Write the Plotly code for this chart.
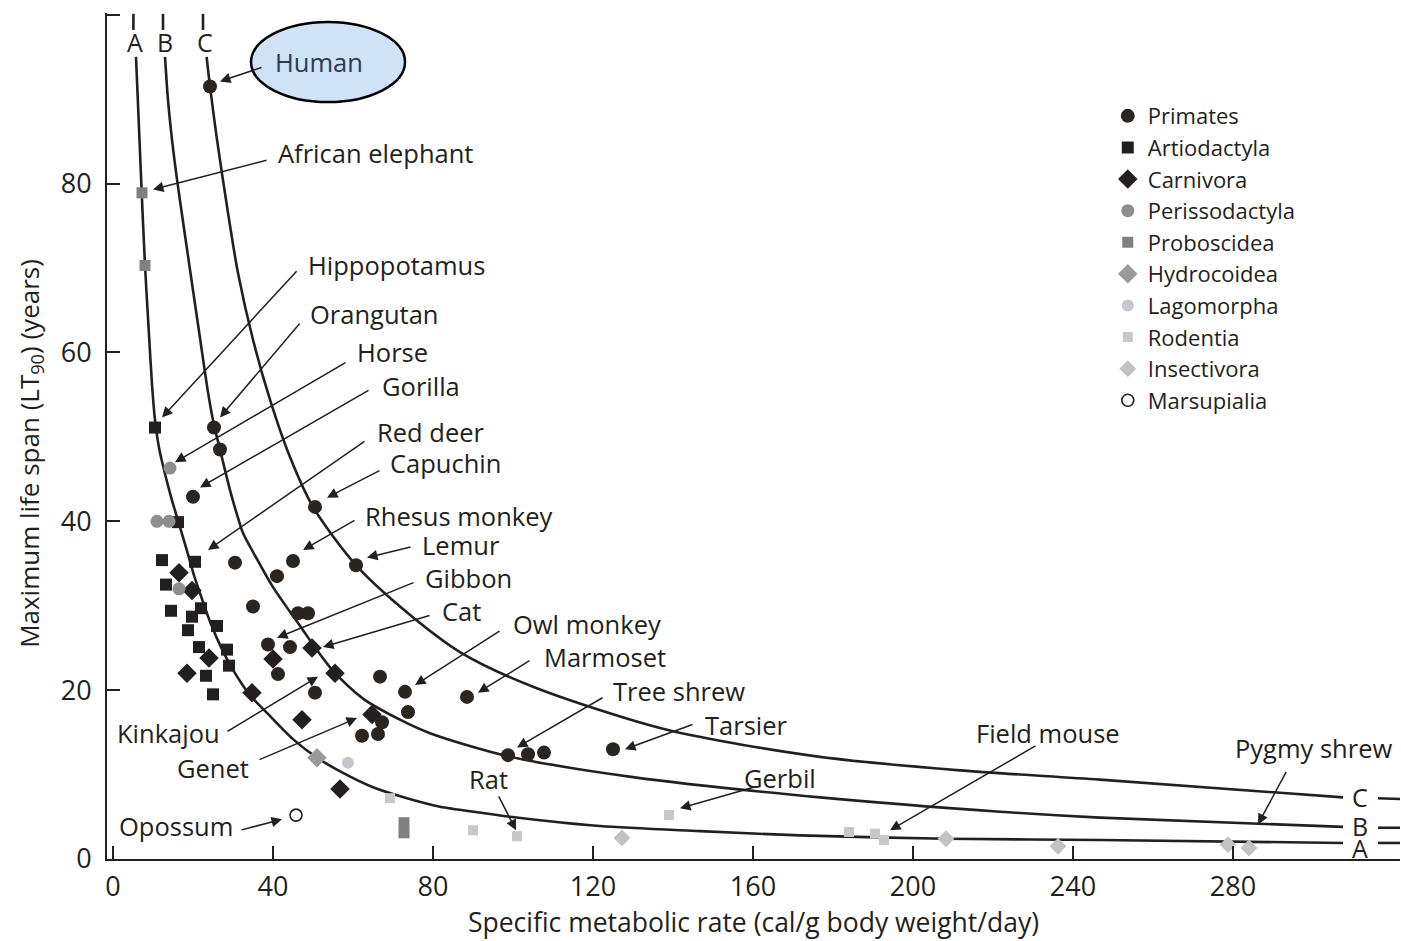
import plotly.graph_objects as go

# ---------------- data ----------------
# Lifetime-energy curves (None = gap where the curve letter sits)
curve_a_x = [5.1, 5.1, None, 5.75, 7.18, 8.0, 9.0, 9.75, 10.5, 11.5, 12.75, 14.5, 16.5, 18.5, 20.25, 22.25,
             24.5, 27.0, 30.0, 34.25, 38.5, 45.0, 51.0, 57.5, 65.0, 73.5, 81.75, 91.75, 99.25, 121.75,
             146.75, 171.75, 208.25, 246.75, 307.5, None, 316.25, 321.75]
curve_a_y = [100.1, 98.2, None, 95.0, 78.9, 70.3, 62.1, 56.2, 52.0, 48.7, 46.1, 42.9, 39.7, 36.5, 33.6, 30.8,
             27.8, 25.1, 22.4, 19.4, 17.3, 14.2, 12.0, 10.2, 8.5, 7.2, 6.2, 5.5, 5.0, 3.9,
             3.3, 2.8, 2.4, 2.25, 1.9, None, 1.9, 1.9]

curve_b_x = [12.5, 12.5, None, 13.0, 13.75, 14.75, 16.0, 17.5, 19.25, 21.75, 23.75, 25.25, 26.75, 29.25,
             31.25, 32.5, 36.25, 40.0, 47.5, 50.0, 55.0, 62.5, 71.75, 79.25, 98.5, 130.0, 176.75, 221.75,
             246.75, 307.5, None, 316.25, 321.75]
curve_b_y = [100.1, 98.2, None, 95.0, 89.9, 85.2, 80.5, 75.5, 69.8, 61.7, 55.3, 51.4, 48.5, 43.7,
             40.4, 38.6, 35.3, 32.2, 27.1, 25.4, 22.3, 19.0, 16.5, 14.9, 12.2, 9.7, 7.3, 5.6,
             4.9, 3.8, None, 3.7, 3.7]

curve_c_x = [22.5, 22.5, None, 23.4, 24.25, 26.0, 28.5, 31.25, 35.0, 39.25, 44.25, 50.0, 60.75, 71.75, 86.75,
             105.0, 138.5, 176.75, 211.75, 246.75, 307.5, None, 316.25, 321.75]
curve_c_y = [100.1, 98.2, None, 95.0, 91.5, 85.2, 77.3, 69.4, 61.5, 54.4, 47.6, 41.7, 34.8, 29.9, 24.5,
             20.4, 15.3, 12.1, 10.5, 9.4, 7.3, None, 7.2, 7.1]

curve_names = ["A", "B", "C"]

# Orders (x = specific metabolic rate, y = maximum life span)
primates_x = [24.25, 25.25, 26.75, 20.0, 50.5, 60.75, 45.0, 41.0, 30.5, 35.0, 46.25, 48.75, 38.75, 44.25,
              41.25, 66.75, 50.5, 73.0, 73.75, 88.5, 67.25, 62.25, 66.25, 98.75, 103.75, 107.75, 125.0]
primates_y = [91.5, 51.1, 48.5, 42.9, 41.7, 34.8, 35.3, 33.5, 35.1, 29.9, 29.1, 29.1, 25.4, 25.1,
              21.9, 21.6, 19.7, 19.8, 17.4, 19.2, 16.2, 14.6, 14.8, 12.3, 12.4, 12.6, 13.0]

artio_x = [10.5, 16.25, 12.25, 20.5, 13.25, 14.5, 22.0, 19.75, 26.0, 18.75, 21.5, 28.5, 29.0, 23.25, 25.0]
artio_y = [51.1, 39.9, 35.4, 35.2, 32.5, 29.4, 29.7, 28.7, 27.6, 27.1, 25.1, 24.8, 22.9, 21.7, 19.5]

carni_x = [16.5, 19.75, 24.0, 18.5, 34.75, 40.0, 49.75, 55.5, 47.25, 64.75, 56.75]
carni_y = [33.9, 31.8, 23.8, 22.0, 19.7, 23.7, 25.0, 22.0, 16.5, 17.1, 8.3]

periss_x = [14.25, 11.0, 14.0, 16.5]
periss_y = [46.3, 40.0, 40.0, 32.0]

probo_x = [7.25, 8.0, 72.75, 72.75]
probo_y = [78.9, 70.3, 4.3, 3.1]

hydro_x = [51.0]
hydro_y = [12.0]

lago_x = [58.75]
lago_y = [11.4]

rodent_x = [69.25, 90.0, 101.0, 139.0, 184.0, 190.5, 192.75]
rodent_y = [7.2, 3.4, 2.7, 5.2, 3.2, 3.0, 2.25]

insect_x = [127.25, 208.25, 236.25, 278.75, 284.0]
insect_y = [2.5, 2.4, 1.5, 1.7, 1.3]

marsu_x = [45.75]
marsu_y = [5.2]

# Labelled species: text, text position, arrow tail, arrow tip
species_labels = ["Human", "African elephant", "Hippopotamus", "Orangutan", "Horse", "Gorilla", "Red deer",
                  "Capuchin", "Rhesus monkey", "Lemur", "Gibbon", "Cat", "Owl monkey", "Marmoset",
                  "Tree shrew", "Tarsier", "Kinkajou", "Genet", "Opossum", "Rat", "Gerbil", "Field mouse",
                  "Pygmy shrew"]
label_x = [51.5, 40.75, 48.25, 48.75, 60.5, 66.75, 65.5, 68.75, 62.5, 76.75, 77.5, 81.75, 99.5, 107.25,
           124.5, 147.5, 13.75, 25.0, 15.75, 93.75, 166.75, 233.75, 300.0]
label_y = [94.4, 83.6, 70.3, 64.5, 60.0, 56.0, 50.6, 46.9, 40.6, 37.2, 33.3, 29.4, 27.8, 23.9,
           19.9, 15.9, 14.9, 10.8, 3.9, 9.5, 9.6, 14.9, 13.2]
label_anchor = ["center", "left", "left", "left", "left", "left", "left", "left", "left", "left", "left",
                "left", "left", "left", "left", "left", "center", "center", "center", "center", "center",
                "center", "center"]
tail_x = [37.5, 38.75, 46.25, 47.0, 58.5, 64.25, 63.25, 67.0, 60.75, 74.75, 75.5, 79.5, 97.0, 104.5,
          122.75, 145.25, 28.25, 36.25, 31.75, 96.25, 161.0, 231.0, 293.5]
tail_y = [93.8, 82.8, 69.8, 63.6, 58.9, 55.6, 49.6, 46.1, 40.2, 37.0, 32.8, 28.9, 27.1, 23.6,
          19.2, 16.0, 15.0, 11.7, 3.4, 7.6, 8.6, 13.5, 10.5]
tip_x = [26.75, 10.0, 12.25, 26.75, 15.5, 21.75, 23.75, 53.5, 47.5, 63.5, 41.0, 52.5, 75.5, 91.25,
         101.0, 128.0, 51.25, 61.0, 42.25, 100.75, 141.75, 194.25, 286.25]
tip_y = [92.1, 79.3, 52.3, 52.3, 47.0, 44.0, 36.6, 42.8, 36.6, 35.7, 26.2, 25.1, 20.6, 19.7,
         13.2, 13.0, 21.6, 16.7, 4.7, 3.4, 6.0, 3.4, 4.1]

x_ticks = [0, 40, 80, 120, 160, 200, 240, 280]
y_ticks = [0, 20, 40, 60, 80, 100]
y_ticktext = ["0", "20", "40", "60", "80", ""]

x_title = "Specific metabolic rate (cal/g body weight/day)"
y_title = "Maximum life span (LT<sub>90</sub>) (years)"

# ---------------- styling ----------------
INK = "#231f20"
FONT = "Open Sans"

fig = go.Figure()

for cx, cy in [(curve_a_x, curve_a_y), (curve_b_x, curve_b_y), (curve_c_x, curve_c_y)]:
    fig.add_trace(go.Scatter(x=cx, y=cy, mode="lines", connectgaps=False, showlegend=False,
                             hoverinfo="skip",
                             line=dict(color=INK, width=2.6, shape="spline", smoothing=0.8)))

orders = [
    ("Primates", primates_x, primates_y, "circle", 14, "#2b2522", None),
    ("Artiodactyla", artio_x, artio_y, "square", 12, INK, None),
    ("Carnivora", carni_x, carni_y, "diamond", 15, INK, None),
    ("Perissodactyla", periss_x, periss_y, "circle", 13, "#8e8e8e", None),
    ("Proboscidea", probo_x, probo_y, "square", 11, "#808080", None),
    ("Hydrocoidea", hydro_x, hydro_y, "diamond", 15, "#9a9a9a", None),
    ("Lagomorpha", lago_x, lago_y, "circle", 12, "#c6c6cc", None),
    ("Rodentia", rodent_x, rodent_y, "square", 10, "#c8c8c8", None),
    ("Insectivora", insect_x, insect_y, "diamond", 13, "#c2c2c2", None),
    ("Marsupialia", marsu_x, marsu_y, "circle-open", 12, INK, 1.6),
]
for name, ox, oy, sym, size, col, lw in orders:
    marker = dict(symbol=sym, size=size, color=col)
    if lw:
        marker["line"] = dict(width=lw, color=col)
    else:
        marker["line"] = dict(width=0)
    fig.add_trace(go.Scatter(x=ox, y=oy, mode="markers", name=name, marker=marker))

annotations = []
# curve letters
top_letter_x = [5.5, 13.0, 23.0]
right_letter_y = [1.3, 3.9, 7.3]
for name, tx, ry in zip(curve_names, top_letter_x, right_letter_y):
    annotations.append(dict(x=tx, y=96.8, text=name, showarrow=False, xref="x", yref="y",
                            font=dict(size=25, family=FONT, color=INK)))
    annotations.append(dict(x=311.75, y=ry, text=name, showarrow=False, xref="x", yref="y",
                            font=dict(size=25, family=FONT, color=INK)))

# arrows
for tx, ty, hx, hy in zip(tail_x, tail_y, tip_x, tip_y):
    annotations.append(dict(x=hx, y=hy, ax=tx, ay=ty, xref="x", yref="y", axref="x", ayref="y",
                            text="", showarrow=True, arrowhead=2, arrowsize=1.4, arrowwidth=1.5,
                            arrowcolor=INK, standoff=0, startstandoff=0))

# species labels
for txt, lx, ly, anc in zip(species_labels, label_x, label_y, label_anchor):
    annotations.append(dict(x=lx, y=ly, text=txt, showarrow=False, xref="x", yref="y",
                            xanchor=anc, yanchor="middle",
                            font=dict(size=25.5, family=FONT, color=INK if txt != "Human" else "#2a3a55")))

# y-axis title (placed as in the reference, slightly below the axis centre)
annotations.append(dict(x=-0.0596, y=0.48, xref="paper", yref="paper", text=y_title, textangle=-90,
                        showarrow=False, xanchor="center", yanchor="middle",
                        font=dict(size=26, family=FONT, color=INK)))

# Human call-out ellipse (behind text)
shapes = [dict(type="circle", xref="paper", yref="paper", x0=0.1114, x1=0.2305, y0=0.8948, y1=0.9894,
               fillcolor="#cfe2f7", line=dict(color="#000000", width=2.5), layer="below")]

fig.update_layout(
    width=1401, height=941,
    margin=dict(l=107, r=1, t=13, b=82),
    paper_bgcolor="white", plot_bgcolor="white",
    font=dict(family=FONT, size=24, color=INK),
    showlegend=True,
    legend=dict(x=0.774, y=0.903, xanchor="left", yanchor="top", bgcolor="rgba(0,0,0,0)",
                font=dict(size=22, family=FONT, color=INK), tracegroupgap=0, itemwidth=30),
    annotations=annotations,
    shapes=shapes,
)

fig.update_xaxes(range=[-1.5, 321.75], tickvals=x_ticks, ticks="inside", ticklen=13, tickwidth=1.5,
                 tickcolor=INK, showline=True, linecolor=INK, linewidth=2, showgrid=False, zeroline=False,
                 tickfont=dict(size=27, family=FONT, color=INK), ticklabelstandoff=3,
                 title=dict(text=x_title, font=dict(size=26.5, family=FONT, color=INK), standoff=6))
fig.update_yaxes(range=[0, 100.2], tickvals=y_ticks, ticktext=y_ticktext, ticks="inside", ticklen=13,
                 tickwidth=1.5, tickcolor=INK, showline=True, linecolor=INK, linewidth=2, showgrid=False,
                 zeroline=False, tickfont=dict(size=27, family=FONT, color=INK), ticklabelstandoff=8)

fig.write_html("out.html")
